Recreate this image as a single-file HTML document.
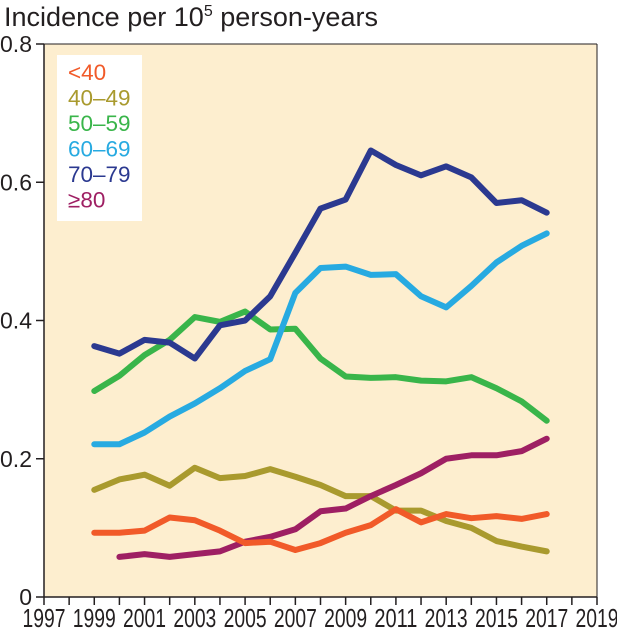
<!DOCTYPE html>
<html><head><meta charset="utf-8"><style>
body{margin:0;background:#fff;font-family:"Liberation Sans",sans-serif;}
svg text{font-family:"Liberation Sans",sans-serif;}
</style></head><body>
<svg id="chart" width="617" height="628">
<text x="4" y="26" font-size="27" fill="#231f20" textLength="374" lengthAdjust="spacingAndGlyphs">Incidence per 10<tspan font-size="16" dy="-10">5</tspan><tspan dy="10"> person-years</tspan></text>
<rect x="44" y="44" width="553" height="553" fill="#fdeecf"/>
<g id="grid"></g>
<g id="lines"></g>
<rect x="57" y="55" width="85" height="166" fill="#fff"/>
<g id="legend"></g>
<line x1="44" y1="44" x2="44" y2="597" stroke="#231f20" stroke-width="1.5"/>
<line x1="44" y1="597" x2="597" y2="597" stroke="#231f20" stroke-width="1.5"/>
<line x1="44" y1="44" x2="597" y2="44" stroke="#231f20" stroke-width="1"/>
<line x1="597" y1="44" x2="597" y2="597" stroke="#231f20" stroke-width="1"/>
</svg>
<script>
const yTicks=[0,0.2,0.4,0.6,0.8];
const yTickLabels=["0","0.2","0.4","0.6","0.8"];
const xTicks=[1997,1998,1999,2000,2001,2002,2003,2004,2005,2006,2007,2008,2009,2010,2011,2012,2013,2014,2015,2016,2017,2018,2019];
const xLabels=[1997,1999,2001,2003,2005,2007,2009,2011,2013,2015,2017,2019];
const seriesNames=["<40","40–49","50–59","60–69","70–79","≥80"];
const seriesColors=["#f15a29","#a99a2e","#39b54a","#27aae1","#2b3990","#9e1f63"];
const yearsMain=[1999,2000,2001,2002,2003,2004,2005,2006,2007,2008,2009,2010,2011,2012,2013,2014,2015,2016,2017];
const years80=[2000,2001,2002,2003,2004,2005,2006,2007,2008,2009,2010,2011,2012,2013,2014,2015,2016,2017];
const vUnder40=[.093,.093,.096,.115,.111,.096,.078,.08,.068,.078,.093,.104,.127,.108,.12,.114,.117,.113,.12];
const v40=[.155,.17,.177,.161,.187,.172,.175,.185,.174,.162,.146,.146,.125,.125,.11,.1,.081,.073,.066];
const v50=[.298,.32,.35,.372,.405,.398,.413,.387,.388,.345,.319,.317,.318,.313,.312,.318,.302,.283,.255];
const v60=[.221,.221,.238,.261,.28,.302,.327,.344,.44,.476,.478,.466,.467,.435,.419,.45,.484,.508,.526];
const v70=[.363,.352,.372,.368,.345,.393,.4,.435,.498,.562,.575,.646,.625,.61,.623,.607,.57,.574,.556];
const v80=[.058,.062,.058,.062,.066,.08,.087,.098,.124,.128,.146,.162,.179,.2,.205,.205,.211,.229];
const ns="http://www.w3.org/2000/svg";
const X=y=>44+(y-1997)*(553/22);
const Y=v=>597-v*(553/0.8);
const grid=document.getElementById('grid');
function mk(tag,attrs,parent){const e=document.createElementNS(ns,tag);for(const k in attrs)e.setAttribute(k,attrs[k]);parent.appendChild(e);return e;}
yTicks.forEach((t,i)=>{
 const l=mk('line',{x1:36,x2:44,y1:Y(t),y2:Y(t),stroke:'#231f20','stroke-width':1.5},grid);
 
 
 const tx=mk('text',{x:32,y:Y(t)+8,'text-anchor':'end','font-size':23,fill:'#231f20'},grid);
 tx.textContent=yTickLabels[i];
 
 
});
xTicks.forEach(t=>{
 const l=mk('line',{x1:X(t),x2:X(t),y1:597,y2:605,stroke:'#231f20','stroke-width':1.5},grid);
 
 
});
xLabels.forEach(t=>{
 const tx=mk('text',{x:X(t),y:627,'text-anchor':'middle','font-size':26,fill:'#231f20',textLength:43,lengthAdjust:'spacingAndGlyphs'},grid);
 tx.textContent=t;
 
 
});
const data=[[yearsMain,vUnder40],[yearsMain,v40],[yearsMain,v50],[yearsMain,v60],[yearsMain,v70],[years80,v80]];
const order=[2,3,4,1,5,0];
const lines=document.getElementById('lines');
order.forEach(i=>{
 const [xs,vs]=data[i];
 const p=mk('polyline',{points:xs.map((x,j)=>X(x)+','+Y(vs[j])).join(' '),fill:'none',stroke:seriesColors[i],'stroke-width':6,'stroke-linejoin':'round','stroke-linecap':'round'},lines);
 
 
});
const lg=document.getElementById('legend');
seriesNames.forEach((n,i)=>{
 const t=mk('text',{x:68,y:80+i*25.5,'font-size':22.5,fill:seriesColors[i]},lg);
 t.textContent=n;
 
 
});
</script>
</body></html>
